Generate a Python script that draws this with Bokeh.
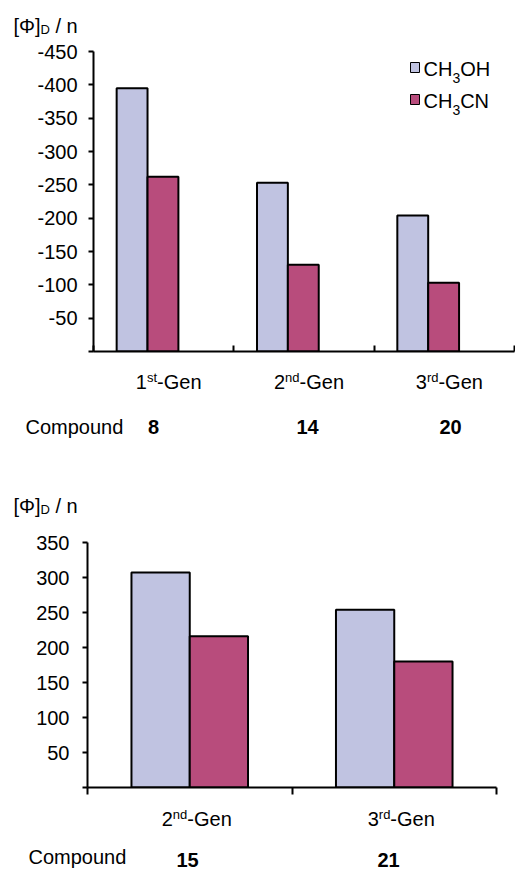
from bokeh.plotting import figure
from bokeh.layouts import column
from bokeh.models import Range1d, FixedTicker, Label, ColumnDataSource, BoxAnnotation
from bokeh.embed import file_html
from bokeh.resources import INLINE

# ---------------- data ----------------
top_categories = [("1", "st"), ("2", "nd"), ("3", "rd")]
top_compounds = ["8", "14", "20"]
top_ch3oh = [-395, -253, -204]
top_ch3cn = [-262, -130, -103]
top_ticks = [0, -50, -100, -150, -200, -250, -300, -350, -400, -450]

bottom_categories = [("2", "nd"), ("3", "rd")]
bottom_compounds = ["15", "21"]
bottom_ch3oh = [307, 254]
bottom_ch3cn = [216, 180]
bottom_ticks = [0, 50, 100, 150, 200, 250, 300, 350]

series_names = [("CH", "3", "OH"), ("CH", "3", "CN")]

# ---------------- style ----------------
FONT = "Liberation Sans"
C_OH = "#C0C3E1"
C_CN = "#B84C7C"
PAGE_W = 515
BASE_OFF = 0.35   # correction: rendered alphabetic baseline sits ~0.35em low

W = {'0': .556, '1': .556, '2': .556, '3': .556, '4': .556, '5': .556, '6': .556,
     '7': .556, '8': .556, '9': .556, 's': .5, 't': .278, 'n': .556, 'd': .556,
     'r': .333, '-': .333, 'G': .778, 'e': .556, 'C': .722, 'H': .722, 'O': .778,
     'N': .722, 'o': .556, 'm': .833, 'p': .556, 'u': .556, ' ': .278, '/': .278,
     '[': .278, ']': .278, 'D': .722, 'Φ': .764}


def tw(s, size):
    return sum(W.get(c, .556) for c in s) * size


def put(p, t, s, x, y, bold=False, units="data"):
    p.add_layout(Label(x=x, y=y, x_units=units, y_units=units, text=t,
                       text_font=FONT, text_font_size=f"{s}px",
                       text_font_style="bold" if bold else "normal",
                       text_baseline="alphabetic", text_align="left",
                       text_color="black"))


def rich(p, pieces, x, y, align="left"):
    """pieces: list of (text, size_px, dy_up, bold); strip y axis points down."""
    total = sum(tw(t, s) for t, s, dy, b in pieces)
    if align == "center":
        x -= total / 2
    for t, s, dy, b in pieces:
        put(p, t, s, x, y - dy - BASE_OFF * s, b)
        x += tw(t, s)


def strip(height):
    s = figure(width=PAGE_W, height=height, output_backend="svg", toolbar_location=None,
               x_range=Range1d(0, PAGE_W), y_range=Range1d(height, 0),
               x_axis_location=None, y_axis_location=None, frame_align=False,
               min_border_left=0, min_border_right=0, min_border_top=0, min_border_bottom=0)
    s.outline_line_color = None
    s.xgrid.visible = False
    s.ygrid.visible = False
    s.background_fill_color = "white"
    s.border_fill_color = "white"
    return s


def style_fig(p, yticks, x_ticks, tick_in, tick_out, standoff):
    p.outline_line_color = None
    p.xgrid.visible = False
    p.ygrid.visible = False
    p.background_fill_color = "white"
    p.border_fill_color = "white"
    ya = p.yaxis[0]
    ya.ticker = FixedTicker(ticks=yticks)
    ya.major_label_overrides = {t: ("" if t == 0 else str(t)) for t in yticks}
    ya.axis_line_width = 2
    ya.axis_line_color = "black"
    ya.major_tick_line_width = 2
    ya.major_tick_line_color = "black"
    ya.major_tick_out = 5
    ya.major_tick_in = 0
    ya.minor_tick_line_color = None
    ya.major_label_standoff = standoff
    ya.major_label_text_font = FONT
    ya.major_label_text_font_size = "20px"
    ya.major_label_text_color = "black"
    xa = p.xaxis[0]
    xa.ticker = FixedTicker(ticks=x_ticks)
    xa.major_label_overrides = {t: "" for t in x_ticks}
    xa.major_label_text_font_size = "1px"
    xa.major_label_standoff = 0
    xa.axis_line_width = 2
    xa.axis_line_color = "black"
    xa.major_tick_line_width = 2
    xa.major_tick_line_color = "black"
    xa.major_tick_in = tick_in
    xa.major_tick_out = tick_out
    xa.minor_tick_line_color = None


def title(s, y_base):
    # [Φ]_D / n  (pieces placed at their own x positions)
    put(s, "[Φ]", 20, 13, y_base - BASE_OFF * 20)
    put(s, "D", 13, 40, y_base + 2 - BASE_OFF * 13)
    put(s, "/ n", 20, 55, y_base - BASE_OFF * 20)


# ---------------- strip A: top title ----------------
sA = strip(39)
title(sA, 32)

# ---------------- top chart ----------------
L1, R1, T1, B1 = 93, 514, 51, 351      # frame edges in page pixels
Y1 = 39                               # figure top in page pixels
H1 = 361 - Y1
n1 = len(top_ch3oh)
p1 = figure(width=PAGE_W, height=H1, output_backend="svg", toolbar_location=None,
            x_range=Range1d(0, n1), y_range=Range1d(0, -450), frame_align=False,
            min_border_left=L1, min_border_right=PAGE_W - R1,
            min_border_top=T1 - Y1, min_border_bottom=Y1 + H1 - B1)
style_fig(p1, top_ticks, list(range(n1 + 1)), 6, 0, 11)

bw1 = 0.22
src1 = ColumnDataSource(dict(
    x_oh=[i + 0.275 for i in range(n1)], x_cn=[i + 0.275 + bw1 for i in range(n1)],
    oh=top_ch3oh, cn=top_ch3cn))
p1.vbar(x="x_oh", top="oh", bottom=0, width=bw1, source=src1,
        fill_color=C_OH, line_color="black", line_width=2)
p1.vbar(x="x_cn", top="cn", bottom=0, width=bw1, source=src1,
        fill_color=C_CN, line_color="black", line_width=2)

# legend (screen units relative to frame bottom-left, y up)
for k, (nm, col) in enumerate(zip(series_names, [C_OH, C_CN])):
    top_px = 62 + 32 * k
    p1.add_layout(BoxAnnotation(left=410 - L1, right=419 - L1,
                                top=B1 - top_px, bottom=B1 - top_px - 10,
                                left_units="screen", right_units="screen",
                                top_units="screen", bottom_units="screen",
                                fill_color=col, fill_alpha=1, line_color="black",
                                line_width=1, line_alpha=1))
    base_px = 75 + 32 * k
    x0 = 423 - L1
    for t, s, dy in [(nm[0], 20, 0), (nm[1], 14, -7), (nm[2], 20, 0)]:
        put(p1, t, s, x0, B1 - base_px + dy + BASE_OFF * s, units="screen")
        x0 += tw(t, s)

# ---------------- strip B: top category labels / compounds ----------------
YB = 361
sB = strip(445 - YB)
cat1 = (R1 - L1) / n1
for i, (num, sup) in enumerate(top_categories):
    rich(sB, [(num, 20, 0, False), (sup, 13, 6, False), ("-Gen", 20, 0, False)],
         L1 + (i + 0.5) * cat1 + 5, 388 - YB, align="center")
rich(sB, [("Compound", 20, 0, False)], 25, 433 - YB)
top_cmp_x = [153, 307, 450]
for cx, c in zip(top_cmp_x, top_compounds):
    rich(sB, [(c, 20, 0, True)], cx, 433 - YB, align="center")

# ---------------- strip C: bottom title ----------------
YC = 445
sC = strip(520 - YC)
title(sC, 512 - YC)

# ---------------- bottom chart ----------------
L2, R2, T2, B2 = 87, 496, 542, 787
Y2 = 520
H2 = 797 - Y2
n2 = len(bottom_ch3oh)
p2 = figure(width=PAGE_W, height=H2, output_backend="svg", toolbar_location=None,
            x_range=Range1d(0, n2), y_range=Range1d(0, 350), frame_align=False,
            min_border_left=L2, min_border_right=PAGE_W - R2,
            min_border_top=T2 - Y2, min_border_bottom=Y2 + H2 - B2)
style_fig(p2, bottom_ticks, list(range(n2 + 1)), 0, 7, 13)

bw2 = 0.285
src2 = ColumnDataSource(dict(
    x_oh=[i + 0.5 - bw2 / 2 for i in range(n2)], x_cn=[i + 0.5 + bw2 / 2 for i in range(n2)],
    oh=bottom_ch3oh, cn=bottom_ch3cn))
p2.vbar(x="x_oh", top="oh", bottom=0, width=bw2, source=src2,
        fill_color=C_OH, line_color="black", line_width=2)
p2.vbar(x="x_cn", top="cn", bottom=0, width=bw2, source=src2,
        fill_color=C_CN, line_color="black", line_width=2)

# ---------------- strip D: bottom category labels / compounds ----------------
YD = 797
sD = strip(869 - YD)
cat2 = (R2 - L2) / n2
for i, (num, sup) in enumerate(bottom_categories):
    rich(sD, [(num, 20, 0, False), (sup, 13, 6, False), ("-Gen", 20, 0, False)],
         L2 + (i + 0.5) * cat2 + 7, 825 - YD, align="center")
rich(sD, [("Compound", 20, 0, False)], 28, 863 - YD)
bot_cmp_x = [187, 388]
for cx, c in zip(bot_cmp_x, bottom_compounds):
    rich(sD, [(c, 20, 0, True)], cx, 866 - YD, align="center")

layout = column(sA, p1, sB, sC, p2, sD, spacing=0)
open("out.html", "w").write(file_html(layout, INLINE))
